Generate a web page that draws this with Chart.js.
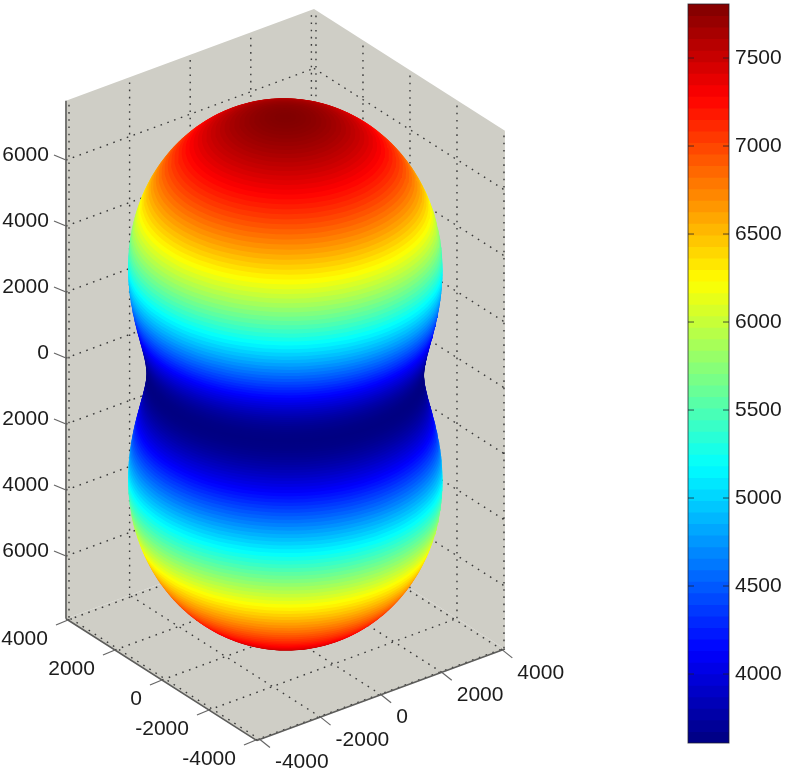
<!DOCTYPE html>
<html>
<head>
<meta charset="utf-8">
<script src="https://cdn.jsdelivr.net/npm/chart.js@4"></script>
<style>
  html, body { margin: 0; padding: 0; background: #fff; overflow: hidden; }
  #surfaceBox { position: absolute; left: 0; top: 0; width: 670px; height: 775px; filter: blur(0.6px); }
  #barBox { position: absolute; left: 670px; top: 0; width: 115px; height: 775px; filter: blur(0.45px); }
</style>
</head>
<body>
<div id="surfaceBox"><canvas id="surface"></canvas></div>
<div id="barBox"><canvas id="colorbar"></canvas></div>
<script>
// axis ticks
const uTicks = [-4000, -2000, 0, 2000, 4000];
const vTicks = [-4000, -2000, 0, 2000, 4000];
const zTicks = [6000, 4000, 2000, 0, -2000, -4000, -6000];
const zTickLabels = ["6000", "4000", "2000", "0", "2000", "4000", "6000"];
const barTicks = [4000, 4500, 5000, 5500, 6000, 6500, 7000, 7500];

// surface profile, one value per degree from south pole (-90) to north pole (90)
const firstLatitude = -90;
const radius = [
  7800, 7799, 7795, 7788, 7780, 7768, 7754, 7738, 7719, 7698, 7674, 7648, 7619, 7588, 7555, 7520,
  7482, 7442, 7401, 7357, 7311, 7263, 7213, 7162, 7109, 7054, 6997, 6939, 6879, 6818, 6755, 6691,
  6626, 6560, 6493, 6425, 6356, 6287, 6216, 6145, 6073, 6001, 5928, 5856, 5783, 5710, 5637, 5564,
  5492, 5419, 5347, 5275, 5204, 5134, 5064, 4995, 4927, 4860, 4794, 4729, 4665, 4602, 4541, 4481,
  4423, 4367, 4311, 4258, 4207, 4157, 4109, 4062, 4019, 3977, 3938, 3900, 3865, 3832, 3801, 3772,
  3746, 3722, 3701, 3682, 3666, 3652, 3640, 3631, 3625, 3621,
  3620,
  3621, 3625, 3631, 3640, 3652, 3666, 3682, 3701, 3722, 3746, 3772, 3801, 3832, 3865, 3900, 3938,
  3977, 4019, 4062, 4109, 4157, 4207, 4258, 4311, 4367, 4423, 4481, 4541, 4602, 4665, 4729, 4794,
  4860, 4927, 4995, 5064, 5134, 5204, 5275, 5347, 5419, 5492, 5564, 5637, 5710, 5783, 5856, 5928,
  6001, 6073, 6145, 6216, 6287, 6356, 6425, 6493, 6560, 6626, 6691, 6755, 6818, 6879, 6939, 6997,
  7054, 7109, 7162, 7213, 7263, 7311, 7357, 7401, 7442, 7482, 7520, 7555, 7588, 7619, 7648, 7674,
  7698, 7719, 7738, 7754, 7768, 7780, 7788, 7795, 7799, 7800
];

const colorMin = 3608;
const colorMax = 7807;

// box limits of the 3d axes
const uMin = -4100, uMax = 4085;
const vMin = -4040, vMax = 4085;
const zMin = -7900, zMax = 7800;

// fixed view of the 3d axes, output goes through the chart's own x and y scales
function project(u, v, z) {
  return {
    x: 286.2 + 0.0303 * u - 0.0235 * v,
    y: 373.4 - 0.0112 * u - 0.015 * v - 0.033 * z
  };
}

function jet(value) {
  const t = Math.min(1, Math.max(0, (value - colorMin) / (colorMax - colorMin)));
  const ramp = (d) => Math.round(255 * Math.min(1, Math.max(0, 1.5 - Math.abs(4 * t - d))));
  return `rgb(${ramp(3)},${ramp(2)},${ramp(1)})`;
}

function polygon(corners) {
  return corners.map((c) => project(c[0], c[1], c[2]));
}

function segments(list) {
  const pts = [];
  list.forEach((seg) => {
    pts.push(project(seg[0][0], seg[0][1], seg[0][2]));
    pts.push(project(seg[1][0], seg[1][1], seg[1][2]));
    pts.push({x: NaN, y: NaN});
  });
  return pts;
}

const gridSegs = [];
uTicks.forEach((u) => {
  gridSegs.push([[u, vMax, zMin], [u, vMax, zMax]]);
  gridSegs.push([[u, vMin, zMin], [u, vMax, zMin]]);
});
vTicks.forEach((v) => {
  gridSegs.push([[uMax, v, zMin], [uMax, v, zMax]]);
  gridSegs.push([[uMin, v, zMin], [uMax, v, zMin]]);
});
zTicks.forEach((z) => {
  gridSegs.push([[uMin, vMax, z], [uMax, vMax, z]]);
  gridSegs.push([[uMax, vMax, z], [uMax, vMin, z]]);
});

const wallColor = "#cfcec6";
function wall(corners) {
  return {
    type: "line", data: polygon(corners), fill: "shape", backgroundColor: wallColor,
    borderWidth: 0, pointRadius: 0, order: 5000
  };
}

const datasets = [
  wall([[uMin, vMax, zMin], [uMax, vMax, zMin], [uMax, vMax, zMax], [uMin, vMax, zMax]]),
  wall([[uMax, vMax, zMin], [uMax, vMin, zMin], [uMax, vMin, zMax], [uMax, vMax, zMax]]),
  wall([[uMin, vMin, zMin], [uMax, vMin, zMin], [uMax, vMax, zMin], [uMin, vMax, zMin]]),
  {
    type: "line", data: segments(gridSegs), borderColor: "#3a3a3a", borderWidth: 1.4,
    borderDash: [1.6, 5.6], pointRadius: 0, fill: false, order: 4000
  }
];

// the body is a stack of discs, one per latitude, lowest painted first
radius.forEach((r, i) => {
  const a = (firstLatitude + i) * Math.PI / 180;
  const h = r * Math.cos(a);
  const z = r * Math.sin(a);
  const ring = [];
  for (let k = 0; k < 120; k++) {
    const b = k * Math.PI / 60;
    ring.push(project(h * Math.cos(b) - 30, h * Math.sin(b), z - 20));
  }
  datasets.push({
    type: "line", data: ring, fill: "shape", backgroundColor: jet(r),
    borderWidth: 0, pointRadius: 0, order: 3000 - i
  });
});

const frontEdges = segments([
  [[uMin, vMax, zMin], [uMin, vMax, zMax]],
  [[uMin, vMax, zMin], [uMin, vMin, zMin]],
  [[uMin, vMin, zMin], [uMax, vMin, zMin]]
]);
datasets.push({
  type: "line", data: frontEdges, borderColor: "#5d5d5b", borderWidth: 1.6,
  pointRadius: 0, fill: false, order: 10
});

const axisLabels = {
  id: "axisLabels",
  afterDatasetsDraw(chart) {
    const c = chart.ctx, sx = chart.scales.x, sy = chart.scales.y;
    const put = (p) => ({x: sx.getPixelForValue(p.x), y: sy.getPixelForValue(p.y)});
    c.save();
    c.font = "21px 'Liberation Sans'";
    c.fillStyle = "#1c1c1c";
    c.strokeStyle = "#666";
    c.lineWidth = 1.2;
    c.textBaseline = "middle";
    const tick = (p, dx, dy) => {
      c.beginPath();
      c.moveTo(p.x, p.y);
      c.lineTo(p.x + dx, p.y + dy);
      c.stroke();
    };
    zTicks.forEach((z, i) => {
      const p = put(project(uMin, vMax, z));
      tick(p, -12, -5);
      c.textAlign = "right";
      c.fillText(zTickLabels[i], p.x - 17, p.y - 5);
    });
    vTicks.forEach((v) => {
      const p = put(project(uMin, v, zMin));
      tick(p, -12, 5);
      c.textAlign = "right";
      c.fillText(String(v), p.x - 20, p.y + 19);
    });
    uTicks.forEach((u) => {
      const p = put(project(u, vMin, zMin));
      tick(p, 10, 8);
      c.textAlign = "left";
      c.fillText(String(u), p.x + 15, p.y + 23);
    });
    c.restore();
  }
};

new Chart(document.getElementById("surface"), {
  type: "scatter",
  data: {datasets: datasets},
  options: {
    responsive: true,
    maintainAspectRatio: false,
    animation: false,
    events: [],
    layout: {padding: 0},
    plugins: {legend: {display: false}, tooltip: {enabled: false}},
    scales: {
      x: {type: "linear", min: 0, max: 670, display: false},
      y: {type: "linear", min: 0, max: 775, reverse: true, display: false}
    }
  },
  plugins: [axisLabels]
});

// colour bar, 64 steps like the matlab colormap
const barValues = [];
const barColors = [];
for (let i = 0; i < 64; i++) {
  const level = colorMin + (i + 0.5) * (colorMax - colorMin) / 64;
  barValues.push({x: 1, y: level});
  barColors.push(jet(level));
}

const barFrame = {
  id: "barFrame",
  afterDatasetsDraw(chart) {
    const c = chart.ctx, a = chart.chartArea, sy = chart.scales.y;
    c.save();
    c.strokeStyle = "rgba(30,30,40,0.75)";
    c.lineWidth = 1;
    c.strokeRect(a.left, a.top, a.right - a.left, a.bottom - a.top);
    barTicks.forEach((t) => {
      const y = sy.getPixelForValue(t);
      c.beginPath();
      c.moveTo(a.left, y);
      c.lineTo(a.left + 6, y);
      c.moveTo(a.right - 6, y);
      c.lineTo(a.right, y);
      c.stroke();
    });
    c.restore();
  }
};

new Chart(document.getElementById("colorbar"), {
  type: "bar",
  data: {
    datasets: [{
      data: barValues,
      backgroundColor: barColors,
      barPercentage: 1.08,
      categoryPercentage: 1,
      borderWidth: 0
    }]
  },
  options: {
    indexAxis: "y",
    responsive: true,
    maintainAspectRatio: false,
    animation: false,
    events: [],
    layout: {padding: {left: 18, top: 4, bottom: 32, right: 0}},
    plugins: {legend: {display: false}, tooltip: {enabled: false}},
    scales: {
      x: {type: "linear", min: 0, max: 1, display: false},
      y: {
        type: "linear",
        position: "right",
        offset: false,
        min: colorMin,
        max: colorMax,
        grid: {display: false, drawTicks: false},
        border: {display: false},
        afterFit: (s) => { s.width = 56; s.paddingTop = 0; s.paddingBottom = 0; },
        afterBuildTicks: (s) => { s.ticks = barTicks.map((v) => ({value: v})); },
        ticks: {
          padding: 6,
          color: "#1c1c1c",
          callback: (v) => String(v),
          font: {family: "Liberation Sans", size: 21}
        }
      }
    }
  },
  plugins: [barFrame]
});
</script>
</body>
</html>
